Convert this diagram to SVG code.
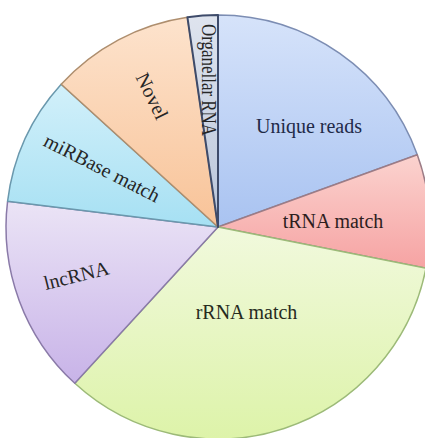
<svg xmlns="http://www.w3.org/2000/svg" width="425" height="438" viewBox="0 0 425 438">
<style>
.lbl{font-family:"Liberation Serif","Times New Roman",serif;font-size:20px;fill:#262626}
.sl{stroke-width:1.5;stroke-linejoin:round}
</style>
<defs>
<linearGradient id="gU" x1="0" y1="0" x2="0" y2="1"><stop offset="0" stop-color="#d6e3fa"/><stop offset="1" stop-color="#a9c3f1"/></linearGradient>
<linearGradient id="gT" x1="0" y1="0" x2="0" y2="1"><stop offset="0" stop-color="#fbd3cf"/><stop offset="1" stop-color="#f6a3a3"/></linearGradient>
<linearGradient id="gR" x1="0" y1="0" x2="0" y2="1"><stop offset="0" stop-color="#f1f9dd"/><stop offset="1" stop-color="#ddf3a9"/></linearGradient>
<linearGradient id="gL" x1="0" y1="0" x2="0" y2="1"><stop offset="0" stop-color="#ebe4f6"/><stop offset="1" stop-color="#c8b3e8"/></linearGradient>
<linearGradient id="gM" x1="0" y1="0" x2="0" y2="1"><stop offset="0" stop-color="#d2f0fa"/><stop offset="1" stop-color="#a6e0f3"/></linearGradient>
<linearGradient id="gN" x1="0" y1="0" x2="0" y2="1"><stop offset="0" stop-color="#fde3cd"/><stop offset="1" stop-color="#f8c398"/></linearGradient>
<linearGradient id="gO" x1="0" y1="0" x2="0" y2="1"><stop offset="0" stop-color="#dfe4ee"/><stop offset="1" stop-color="#b9c5da"/></linearGradient>
</defs>
<rect width="425" height="438" fill="#ffffff"/>
<g id="unique-reads">
<path class="sl" d="M218,227 L417.3,154.8 A212,212 0 0 0 218,15 Z" fill="url(#gU)" stroke="#7c8db3"/>
<text class="lbl" x="309" y="133" text-anchor="middle" style="fill:#1f2a48">Unique reads</text>
</g>
<g id="trna-match">
<path class="sl" d="M218,227 L426,268.2 A212,212 0 0 0 417.3,154.8 Z" fill="url(#gT)" stroke="#9c7c86"/>
<text class="lbl" x="333" y="228" text-anchor="middle" style="fill:#2e1e1e">tRNA match</text>
</g>
<g id="rrna-match">
<path class="sl" d="M218,227 L74.8,383.3 A212,212 0 0 0 426,268.2 Z" fill="url(#gR)" stroke="#9cba78"/>
<text class="lbl" x="246.5" y="319" text-anchor="middle" style="fill:#262b1e">rRNA match</text>
</g>
<g id="lncrna">
<path class="sl" d="M218,227 L7.6,201.2 A212,212 0 0 0 74.8,383.3 Z" fill="url(#gL)" stroke="#8a7aa8"/>
<text class="lbl" transform="translate(78,282) rotate(-14)" text-anchor="middle" font-size="21">lncRNA</text>
</g>
<g id="mirbase-match">
<path class="sl" d="M218,227 L61.2,84.3 A212,212 0 0 0 7.6,201.2 Z" fill="url(#gM)" stroke="#6a98ad"/>
<text class="lbl" transform="translate(99,174) rotate(27)" text-anchor="middle">miRBase match</text>
</g>
<g id="novel">
<path class="sl" d="M218,227 L187.4,17.2 A212,212 0 0 0 61.2,84.3 Z" fill="url(#gN)" stroke="#ae8e6e"/>
<text class="lbl" transform="translate(146,99) rotate(64)" text-anchor="middle">Novel</text>
</g>
<g id="organellar-rna">
<path d="M218,227 L218,15 A212,212 0 0 0 187.4,17.2 Z" fill="url(#gO)" stroke="#3e4b6a" stroke-width="2" stroke-linejoin="round"/>
<text class="lbl" transform="translate(202,24) rotate(90)" font-size="16.5" textLength="112" lengthAdjust="spacingAndGlyphs">Organellar  RNA</text>
</g>
</svg>
